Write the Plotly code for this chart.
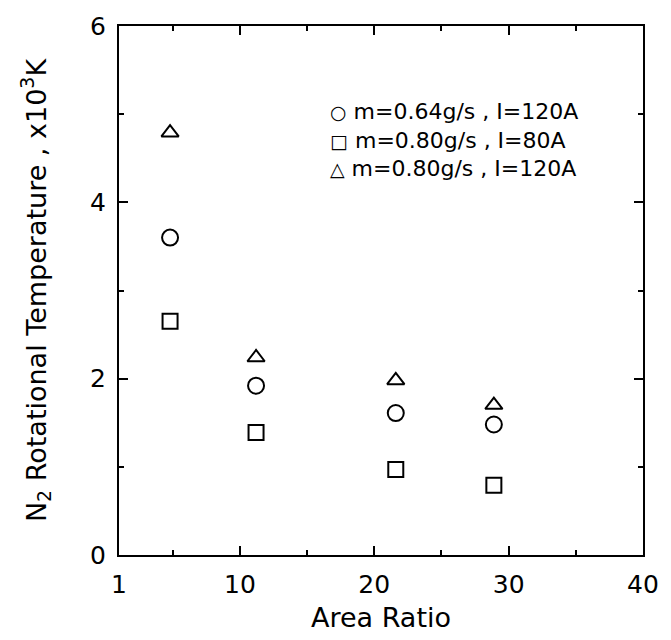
import plotly.graph_objects as go

# ---- data ----
area_ratio = [4.8, 11.2, 21.6, 28.9]
temp_m064_i120 = [3.60, 1.92, 1.61, 1.48]   # circles
temp_m080_i80 = [2.65, 1.39, 0.97, 0.79]    # squares
temp_m080_i120 = [4.79, 2.24, 1.98, 1.70]   # triangles

series_names = ["m=0.64g/s , I=120A", "m=0.80g/s , I=80A", "m=0.80g/s , I=120A"]
series_symbols = ["circle-open", "square-open", "triangle-up-open"]
series_glyphs = ["○", "□", "△"]
series_sizes = [16, 15, 15]
series_values = [temp_m064_i120, temp_m080_i80, temp_m080_i120]

x_ticks = [1, 10, 20, 30, 40]
x_minor = [5, 15, 25, 35]
y_ticks = [0, 2, 4, 6]
y_minor = [1, 3, 5]

FONT = "DejaVu Sans"

fig = go.Figure()
for name, sym, size, vals in zip(series_names, series_symbols, series_sizes, series_values):
    fig.add_trace(go.Scatter(
        x=area_ratio, y=vals, mode="markers", name=name,
        marker=dict(symbol=sym, size=size, color="black", line=dict(width=2, color="black")),
        showlegend=False,
    ))

# legend drawn as one multi-line text annotation
legend_lines = [
    f'<span style="font-size:19px">{g}</span> {n}' for g, n in zip(series_glyphs, series_names)
]
fig.add_annotation(xref="paper", yref="paper", x=0.398, y=0.866, text="<br>".join(legend_lines),
                   showarrow=False, xanchor="left", yanchor="top", align="left",
                   font=dict(family=FONT, size=22, color="black"))

axis_common = dict(
    showgrid=False, zeroline=False, showline=True, linecolor="black", linewidth=2,
    mirror="ticks", ticks="inside", ticklen=9, tickwidth=1.5, tickcolor="black",
    tickfont=dict(family=FONT, size=25, color="black"),
)

fig.update_xaxes(
    range=[1, 40], tickmode="array", tickvals=x_ticks, ticktext=[str(v) for v in x_ticks],
    minor=dict(tickmode="array", tickvals=x_minor, ticks="inside", ticklen=5, tickwidth=1.5, tickcolor="black"),
    title=dict(text="Area Ratio", font=dict(family=FONT, size=27, color="black"), standoff=10),
    ticklabelstandoff=6,
    **axis_common,
)
fig.update_yaxes(
    range=[0, 6], tickmode="array", tickvals=y_ticks, ticktext=[str(v) for v in y_ticks],
    minor=dict(tickmode="array", tickvals=y_minor, ticks="inside", ticklen=5, tickwidth=1.5, tickcolor="black"),
    title=dict(text="N<sub>2</sub> Rotational Temperature , x10<sup>3</sup>K",
               font=dict(family=FONT, size=27, color="black"), standoff=36),
    ticklabelstandoff=6,
    **axis_common,
)

fig.update_layout(
    width=671, height=640,
    margin=dict(l=119, r=19, t=20, b=85),
    paper_bgcolor="white", plot_bgcolor="white",
    font=dict(family=FONT, color="black"),
)

fig.write_html("out.html")
